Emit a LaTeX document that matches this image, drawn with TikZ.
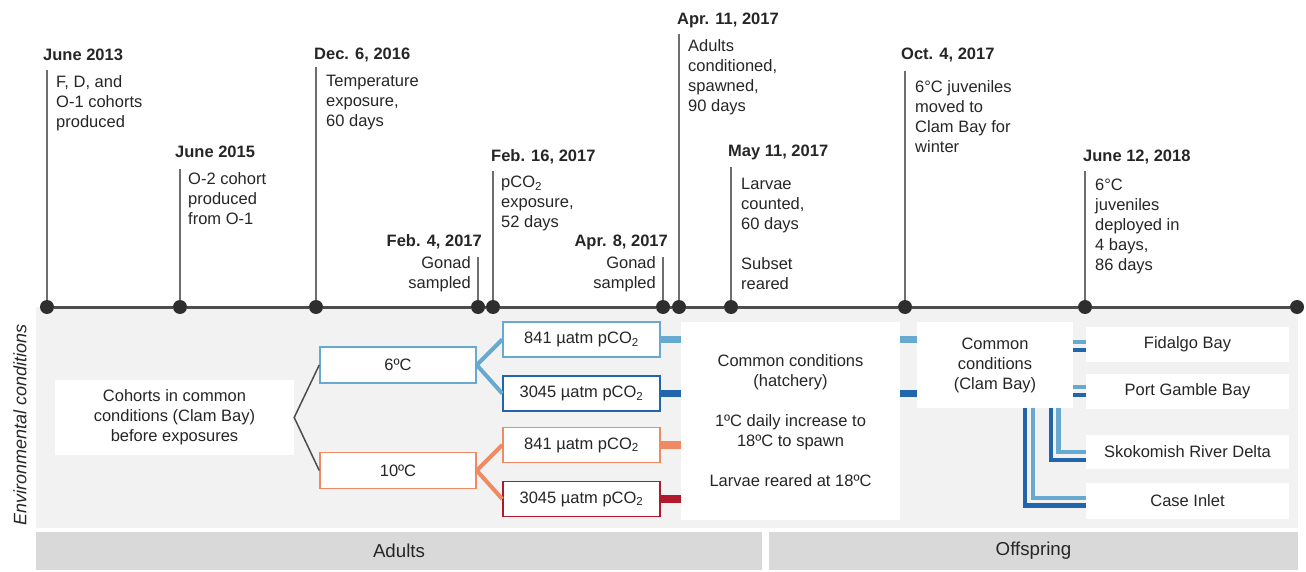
\documentclass[tikz,border=0pt]{standalone}
\usepackage{fontspec}
\setmainfont{Liberation Sans}
\usetikzlibrary{positioning,calc}

\definecolor{ink}{HTML}{262626}
\definecolor{axisgray}{HTML}{4D4D4D}
\definecolor{tickgray}{HTML}{6E6E6E}
\definecolor{panelgray}{HTML}{F2F2F2}
\definecolor{bargray}{HTML}{D9D9D9}
\definecolor{lblue}{HTML}{67A9CF}
\definecolor{dblue}{HTML}{2166AC}
\definecolor{lorange}{HTML}{EF8A62}
\definecolor{dred}{HTML}{B2182B}

\newcommand{\tlfont}{\fontsize{16.5}{20}\selectfont}

\begin{document}
\begin{tikzpicture}[x=1pt, y=-1pt,
    every node/.style={font=\tlfont, text=ink},
    tdot/.style={circle, fill=axisgray!60!black, inner sep=0pt, minimum size=14pt},
    timeline/.style={draw=axisgray, line width=3pt},
    tickline/.style={draw=tickgray, line width=2pt},
    date/.style={font=\tlfont\bfseries, inner sep=0pt, anchor=base west},
    datel/.style={date, anchor=base east},
    desc/.style={inner sep=0pt, anchor=north west, align=left},
    descl/.style={desc, anchor=north east, align=right},
    box/.style={fill=white, inner sep=0pt, align=center},
    tempbox/.style={box, draw=#1, line width=1.5pt, minimum width=156pt, minimum height=36pt},
    co2box/.style={box, draw=#1, line width=1.5pt, minimum width=157pt, minimum height=35pt},
    baybox/.style={box, minimum width=203pt, minimum height=35pt},
    bar/.style={fill=bargray, inner sep=0pt, minimum height=38pt, font=\fontsize{18.7}{20}\selectfont},
    fork/.style={draw=#1, line width=4pt, line join=round},
    stub/.style={draw=#1, line width=7.5pt},
    lane/.style={draw=#1, line width=4.5pt}
]
\useasboundingbox (0,0) rectangle (1306,572);

% Panel behind the conditions
\fill[panelgray] (36,307) rectangle (1298,528);

% Time line with event ticks
\foreach \n/\x/\t in {a/47/70, b/180/169, c/316/67, d/478/257, e/493/171,
                      f/663/257, g/679/34, h/731/167, i/905/71, j/1085/171} {
    \node[tdot] (dot\n) at (\x,307) {};
    \coordinate (top\n) at (\x,\t);
    \draw[tickline] (dot\n) -- (top\n);
}
\node[tdot] (dotk) at (1297,307) {};
\draw[timeline] (dota) -- (dotb) -- (dotc) -- (dotd) -- (dote) -- (dotf)
    -- (dotg) -- (doth) -- (doti) -- (dotj) -- (dotk);

% Dates
\node[date] (datea) at (43,61) {June 2013};
\node[date] (dateb) at (175,158) {June 2015};
\node[date] (datec) at (314,60) {Dec. 6, 2016};
\node[datel] (dated) at (482,246) {Feb. 4, 2017};
\node[date] (datee) at (491,162) {Feb. 16, 2017};
\node[datel] (datef) at (668,247) {Apr. 8, 2017};
\node[date] (dateg) at (677,25) {Apr. 11, 2017};
\node[date] (dateh) at (728,157) {May 11, 2017};
\node[date] (datei) at (901,60) {Oct. 4, 2017};
\node[date] (datej) at (1083,162) {June 12, 2018};

% Event texts
\node[desc] (txta) at (56,75) {F, D, and\\O-1 cohorts\\produced};
\node[desc] (txtb) at (188,172) {O-2 cohort\\produced\\from O-1};
\node[desc] (txtc) at (326,75) {Temperature\\exposure,\\60 days};
\node[descl] (txtd) at (471,256) {Gonad\\sampled};
\node[desc] (txte) at (501,176) {pCO\textsubscript{2}\\exposure,\\52 days};
\node[descl] (txtf) at (656,256) {Gonad\\sampled};
\node[desc] (txtg) at (688,39) {Adults\\conditioned,\\spawned,\\90 days};
\node[desc] (txth) at (741,178) {Larvae\\counted,\\60 days\\[20pt]Subset\\reared};
\node[desc] (txti) at (915,80) {6°C juveniles\\moved to\\Clam Bay for\\winter};
\node[desc] (txtj) at (1095,179) {6°C\\juveniles\\deployed in\\4 bays,\\86 days};

% Side label and phase bars
\node[rotate=90, font=\fontsize{18}{20}\selectfont\itshape] (envlab) at (20,425) {Environmental conditions};
\node[bar, minimum width=726pt] (adults) at (399,551) {Adults};
\node[bar, minimum width=529pt] (offspring) at (1033.5,551) {Offspring};

% Adult conditions
\node[box, minimum width=239pt, minimum height=75pt] (coh) at (174.5,417.5)
    {Cohorts in common\\conditions (Clam Bay)\\before exposures};
\node[tempbox=lblue] (six) at (398,365) {6ºC};
\node[tempbox=lorange] (ten) at (398,470.5) {10ºC};
\node[co2box=lblue] (sixlo) at (581.5,339.5) {841 µatm pCO\textsubscript{2}};
\node[co2box=dblue] (sixhi) at (581.5,393.5) {3045 µatm pCO\textsubscript{2}};
\node[co2box=lorange] (tenlo) at (581.5,445) {841 µatm pCO\textsubscript{2}};
\node[co2box=dred] (tenhi) at (581.5,499) {3045 µatm pCO\textsubscript{2}};

\draw[draw=axisgray, line width=1.5pt] (six.west) -- (coh.east) -- (ten.west);
\draw[fork=lblue] (sixlo.west) -- (six.east) -- (sixhi.west);
\draw[fork=lorange] (tenlo.west) -- (ten.east) -- (tenhi.west);

% Offspring conditions
\node[box, minimum width=219pt, minimum height=198pt] (hat) at (790.5,421)
    {Common conditions\\(hatchery)\\[20pt]1ºC daily increase to\\18ºC to spawn\\[20pt]Larvae reared at 18ºC};
\node[box, minimum width=156pt, minimum height=86pt] (clam) at (995,365)
    {Common\\conditions\\(Clam Bay)};
\node[baybox] (fid) at (1187.5,344.5) {Fidalgo Bay};
\node[baybox] (pgb) at (1187.5,391.5) {Port Gamble Bay};
\node[baybox, minimum height=34pt] (sko) at (1187.5,452) {Skokomish River Delta};
\node[baybox, minimum height=36pt] (cas) at (1187.5,501) {Case Inlet};

\draw[stub=lblue] (sixlo.east) -- (sixlo.east -| hat.west);
\draw[stub=dblue] (sixhi.east) -- (sixhi.east -| hat.west);
\draw[stub=lorange] (tenlo.east) -- (tenlo.east -| hat.west);
\draw[stub=dred] (tenhi.east) -- (tenhi.east -| hat.west);
\draw[stub=lblue] (hat.east |- sixlo) -- (clam.west |- sixlo);
\draw[stub=dblue] (hat.east |- sixhi) -- (clam.west |- sixhi);

% Lanes to the bays
\coordinate (fidl) at (1080,342);
\coordinate (fidd) at (1080,350);
\coordinate (pgbl) at (1080,387);
\coordinate (pgbd) at (1080,395);
\coordinate (skol) at (1058.5,452);
\coordinate (skod) at (1051,460);
\coordinate (casl) at (1033,498);
\coordinate (casd) at (1025,505.5);
\draw[lane=lblue] (clam.east |- fidl) -- (fid.west |- fidl);
\draw[lane=dblue] (clam.east |- fidd) -- (fid.west |- fidd);
\draw[lane=lblue] (clam.east |- pgbl) -- (pgb.west |- pgbl);
\draw[lane=dblue] (clam.east |- pgbd) -- (pgb.west |- pgbd);
\draw[lane=lblue] (clam.south -| skol) |- (sko.west |- skol);
\draw[lane=dblue] (clam.south -| skod) |- (sko.west |- skod);
\draw[lane=lblue] (clam.south -| casl) |- (cas.west |- casl);
\draw[lane=dblue] (clam.south -| casd) |- (cas.west |- casd);
\end{tikzpicture}
\end{document}
